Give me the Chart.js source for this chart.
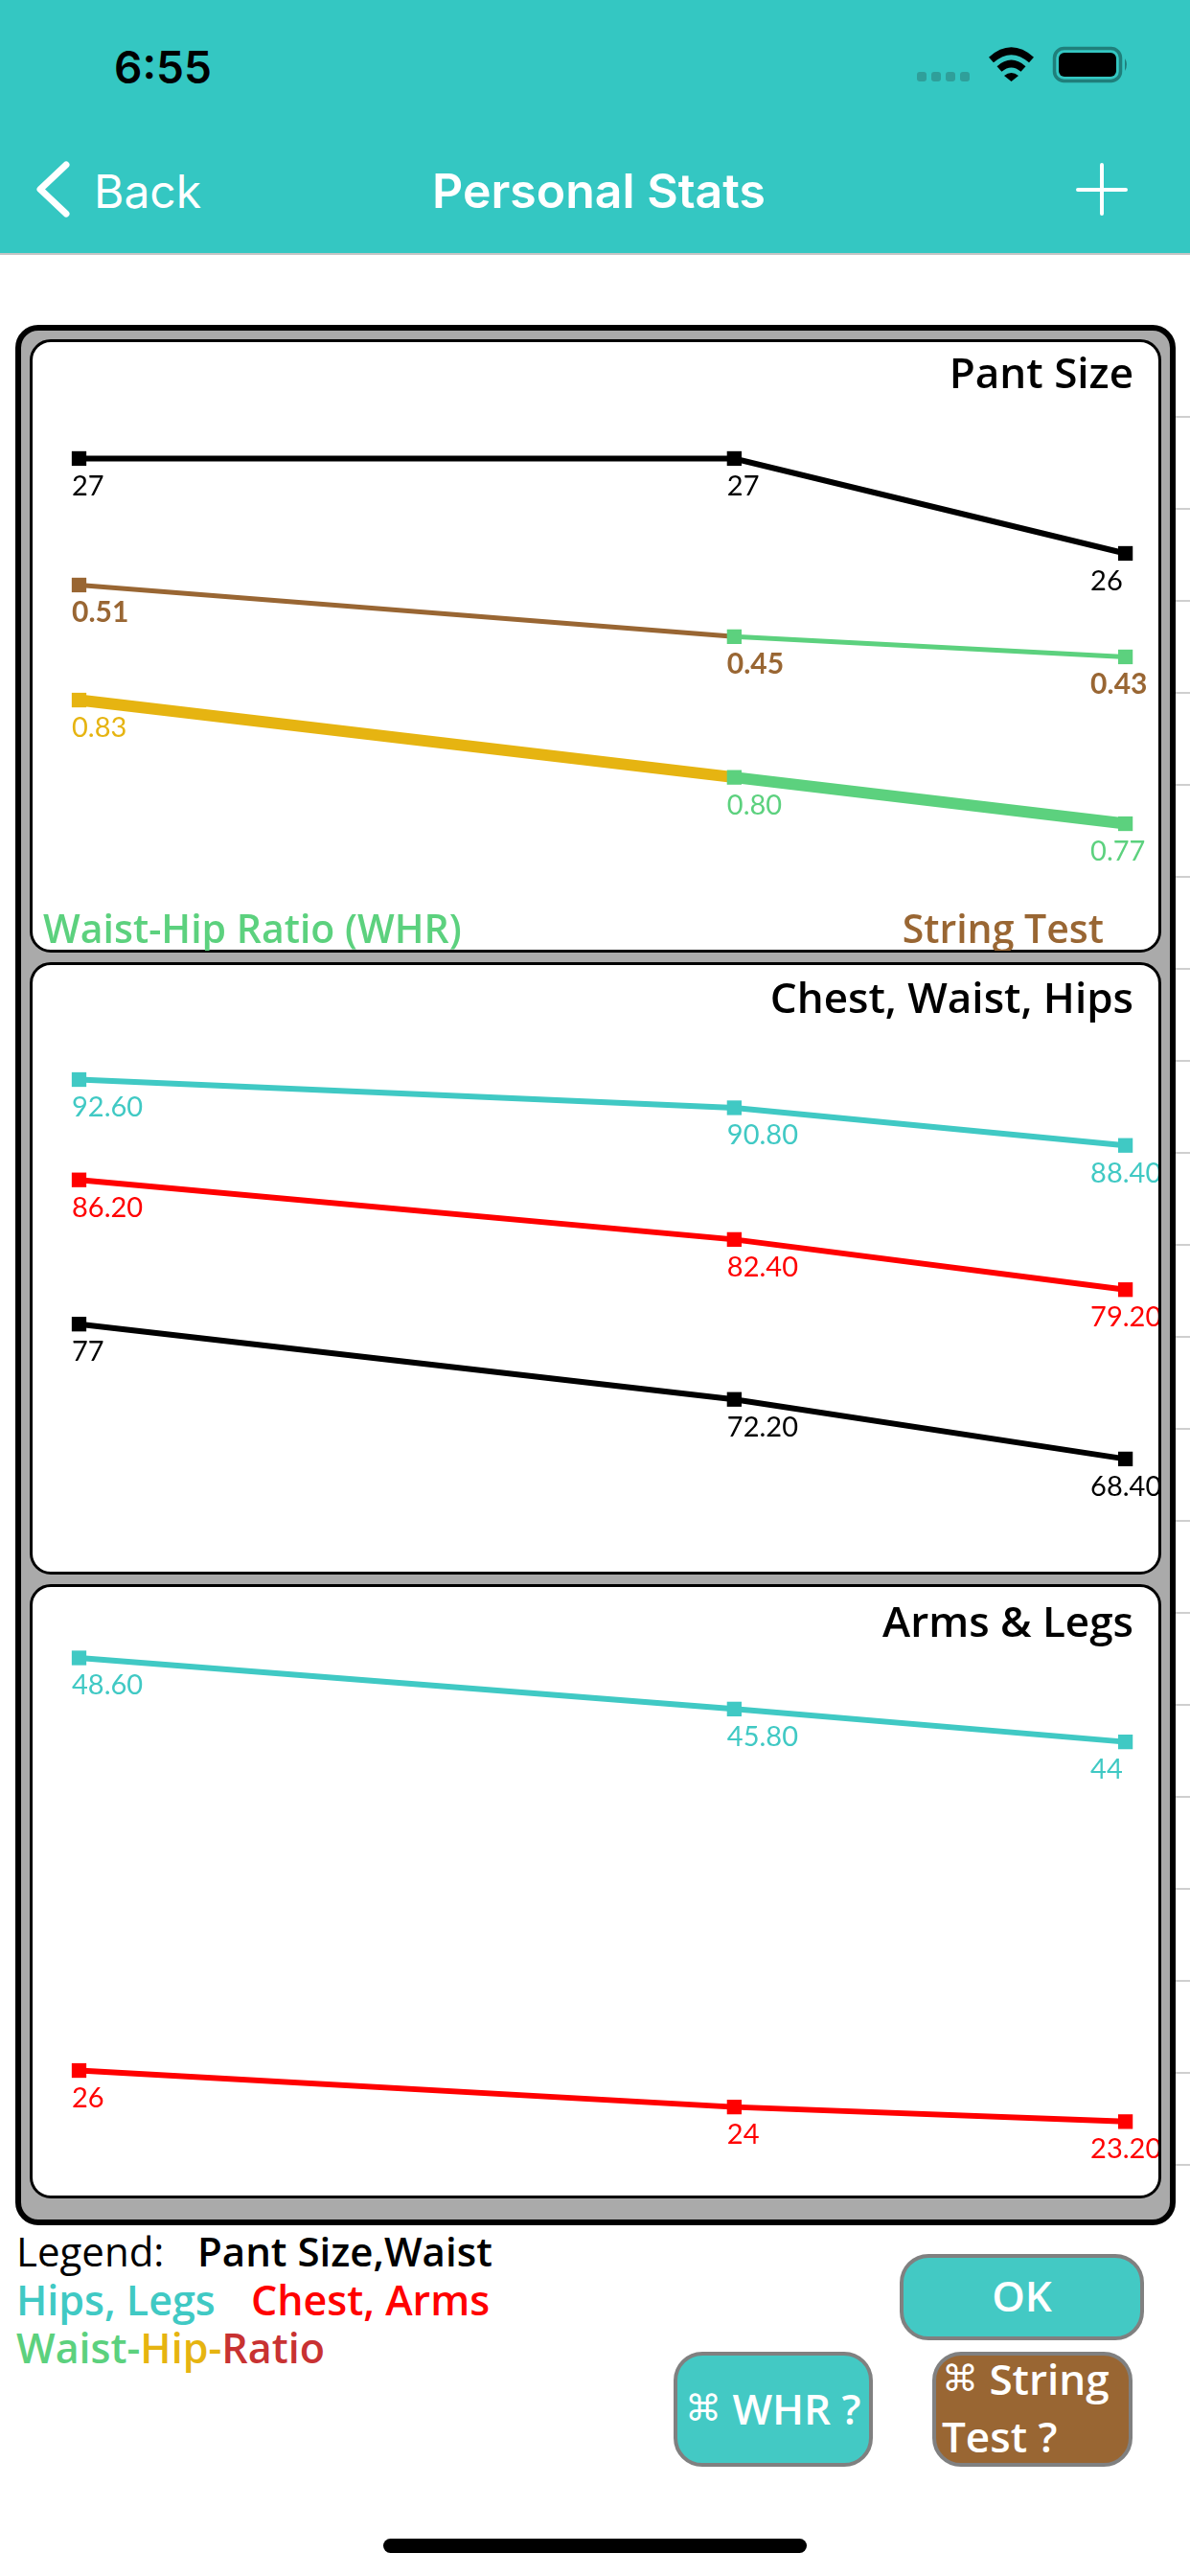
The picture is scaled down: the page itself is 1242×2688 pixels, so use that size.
<!DOCTYPE html>
<html><head><meta charset="utf-8">
<script src="https://cdn.jsdelivr.net/npm/chart.js@4/dist/chart.umd.min.js"></script>
<style>
html,body{margin:0;padding:0;background:#fff;width:1242px;height:2688px;overflow:hidden}
#app{position:relative;width:1242px;height:2688px;font-family:'Open Sans',sans-serif}
.abs{position:absolute}
.t{position:absolute;white-space:nowrap;line-height:1}
.panel{position:absolute;box-sizing:border-box;background:#fff;border:3px solid #000;border-radius:22px}
canvas{position:absolute;display:block}
.btn{position:absolute;box-sizing:border-box;border:4px solid #808080;border-radius:30px;color:#fff}
.cmd{font-weight:400;font-size:38px;vertical-align:4px}
.rule{position:absolute;left:1227px;width:15px;height:2px;background:#cfcfcf}
</style></head><body><div id="app">
<div class="abs" style="left:0;top:0;width:1242px;height:264px;background:#34c7c2;border-bottom:2px solid #c4c4c4"></div>
<span class="t" style="left:119px;top:42px;font:600 46px Inter,sans-serif;color:#000">6:55</span>
<svg class="abs" style="left:0;top:0" width="1242" height="264">
 <g fill="#2f9f9a"><rect x="957" y="75" width="10" height="10" rx="3"/><rect x="972" y="75" width="10" height="10" rx="3"/><rect x="987" y="75" width="10" height="10" rx="3"/><rect x="1002" y="75" width="10" height="10" rx="3"/></g>
 <g fill="none" stroke="#000" stroke-width="7.5"><path d="M1034.5 62.5Q1055.5 44 1076.5 62.5"/><path d="M1043 72Q1055.5 61 1068 72"/></g>
 <path d="M1048 79Q1055.5 73 1063 79L1055.5 85Z" fill="#000"/>
 <rect x="1100.5" y="50.5" width="69" height="34" rx="10" fill="none" stroke="#1f7f7b" stroke-width="3.5"/>
 <rect x="1105" y="55" width="60" height="25" rx="6" fill="#000"/>
 <path d="M1174 61Q1178 67 1174 74Z" fill="#1f7f7b"/>
 <path d="M69 172L42 197.5L69 223" fill="none" stroke="#fff" stroke-width="7" stroke-linecap="round" stroke-linejoin="round"/>
 <path d="M1150 172V223M1125 198H1175" stroke="#fff" stroke-width="4" fill="none" stroke-linecap="round"/>
</svg>
<span class="t" style="left:98px;top:170px;font:400 48px Inter,sans-serif;color:#fff">Back</span>
<span class="t" style="left:451px;top:169px;font:600 50px Inter,sans-serif;color:#fff">Personal Stats</span>

<div id="rules"></div>
<div class="abs" style="left:16px;top:339px;width:1211px;height:1983px;box-sizing:border-box;background:#aaa;border:6px solid #000;border-radius:24px"></div>
<div class="panel" style="left:31px;top:354px;width:1181px;height:640px"></div>
<div class="panel" style="left:31px;top:1004px;width:1181px;height:639px"></div>
<div class="panel" style="left:31px;top:1653px;width:1181px;height:641px"></div>
<canvas id="c1" class="abs" style="left:32px;top:355px"></canvas>
<canvas id="c2" class="abs" style="left:32px;top:1006px"></canvas>
<canvas id="c3" class="abs" style="left:32px;top:1655px"></canvas>

<span class="t" style="left:17px;top:2320px;font:400 42px 'Open Sans',sans-serif;color:#000">Legend:</span>
<span class="t" style="left:206px;top:2320px;font:600 42px 'Open Sans',sans-serif;color:#000">Pant Size,Waist</span>
<span class="t" style="left:17px;top:2370px;font:600 43px 'Open Sans',sans-serif;color:#40c9c4">Hips, Legs</span>
<span class="t" style="left:262px;top:2370px;font:600 43px 'Open Sans',sans-serif;color:#ff0000">Chest, Arms</span>
<span class="t" style="left:17px;top:2420px;font:600 43px 'Open Sans',sans-serif"><span style="color:#5cd17e">Waist-</span><span style="color:#e6b411">Hip-</span><span style="color:#c83232">Ratio</span></span>

<div class="btn" style="left:939px;top:2352px;width:255px;height:90px;background:#43c9c4;text-align:center;font:600 44px/78px 'Open Sans',sans-serif">OK</div>
<div class="btn" style="left:703px;top:2454px;width:208px;height:120px;background:#43c9c4;font:600 44px/106px 'Open Sans',sans-serif;white-space:nowrap;padding-left:8px"><span class="cmd">⌘</span> WHR ?</div>
<div class="btn" style="left:973px;top:2454px;width:209px;height:120px;background:#996633;font:600 44px/60px 'Open Sans',sans-serif;white-space:nowrap;padding-left:6px"><div style="position:relative;top:-8px"><span class="cmd">⌘</span> String<br>Test ?</div></div>
<div class="abs" style="left:400px;top:2649px;width:442px;height:15px;border-radius:8px;background:#000"></div>
</div>
<script>
const BLACK='#000000', BROWN='#996633', GREEN='#5cd17e', YELLOW='#e6b411', TEAL='#40c9c4', RED='#ff0000';

// recorded session positions along the horizontal axis
const visits=[0,67,107];

// Pant Size panel
const pantSize=[27,27,26];
const stringTest=[0.51,0.4525,0.43];
const waistHip=[0.83,0.795,0.774];
const stringLine=[BROWN,GREEN,GREEN];
const waistHipLine=[YELLOW,GREEN,GREEN];
const stringLabels=[BROWN,BROWN,BROWN];
const waistHipLabels=[YELLOW,GREEN,GREEN];

// Chest, Waist, Hips panel
const hips=[92.6,90.8,88.4];
const chest=[86.2,82.4,79.2];
const waist=[77,72.2,68.4];

// Arms & Legs panel
const legs=[48.6,45.8,44];
const arms=[26,24,23.2];

Chart.defaults.devicePixelRatio=1;
const fmt=v=>Number.isInteger(v)?String(v):v.toFixed(2);
const xScale={type:'linear',display:false,min:-4.948,max:110.37};
const hiddenY=(min,max)=>({type:'linear',display:false,min,max,grid:{display:false}});

function series(values,lineColors,labelColors,width,axis,weight){
  return {
    data:values.map((y,i)=>({x:visits[i],y})),
    yAxisID:axis,
    borderWidth:width,
    borderColor:lineColors[0],
    segment:{borderColor:c=>lineColors[c.p0DataIndex]},
    pointStyle:'rect',pointRadius:10.8,pointBorderWidth:0,
    pointBackgroundColor:lineColors,
    tension:0,clip:false,
    labelColors,labelFont:weight?'700 30px':'400 29px'
  };
}
const sameColor=c=>[c,c,c];

const textPlugin={id:'panelText',afterDatasetsDraw(chart,args,opts){
  const ctx=chart.ctx;ctx.save();
  ctx.textBaseline='alphabetic';
  chart.data.datasets.forEach((ds,d)=>{
    const meta=chart.getDatasetMeta(d);
    meta.data.forEach((pt,i)=>{
      ctx.fillStyle=ds.labelColors[i];
      ctx.textAlign='left';
      ctx.font=ds.labelFont+' Lato, sans-serif';
      const dx=i===meta.data.length-1?-36.5:-7.5;
      ctx.fillText(fmt(ds.data[i].y),pt.x+dx,pt.y+38.5);
    });
  });
  opts.notes.forEach(n=>{
    ctx.fillStyle=n.color;ctx.textAlign=n.align;
    ctx.font=n.weight+' '+n.size+"px 'Open Sans', sans-serif";
    ctx.fillText(n.text,n.x,n.y);
  });
  ctx.restore();
}};

function build(id,height,datasets,scales,notes){
  const cv=document.getElementById(id);
  cv.width=1177;cv.height=height;cv.style.width='1177px';cv.style.height=height+'px';
  new Chart(cv,{type:'line',data:{datasets},plugins:[textPlugin],options:{
    responsive:false,animation:false,
    layout:{padding:0,autoPadding:false},
    scales:Object.assign({x:xScale},scales),
    plugins:{legend:{display:false},tooltip:{enabled:false},panelText:{notes}}
  }});
}

build('c1',637,[
  series(pantSize,sameColor(BLACK),sameColor(BLACK),6,'y'),
  series(stringTest,stringLine,stringLabels,5,'yString',700),
  series(waistHip,waistHipLine,waistHipLabels,12,'yWhr')
],{y:hiddenY(21.813,28.247),yString:hiddenY(0.103,0.7825),yWhr:hiddenY(0.7165,0.993)},[
  {text:'Pant Size',x:1151,y:50,align:'right',color:BLACK,size:44,weight:600},
  {text:'Waist-Hip Ratio (WHR)',x:13,y:629,align:'left',color:GREEN,size:41,weight:600},
  {text:'String Test',x:1120,y:629,align:'right',color:BROWN,size:41,weight:600}
]);
build('c2',635,[
  series(hips,sameColor(TEAL),sameColor(TEAL),6,'y'),
  series(chest,sameColor(RED),sameColor(RED),6,'y'),
  series(waist,sameColor(BLACK),sameColor(BLACK),6,'y')
],{y:hiddenY(61.15,99.966)},[
  {text:'Chest, Waist, Hips',x:1151,y:51,align:'right',color:BLACK,size:44,weight:600}
]);
build('c3',638,[
  series(legs,sameColor(TEAL),sameColor(TEAL),6,'y'),
  series(arms,sameColor(RED),sameColor(RED),6,'y')
],{y:hiddenY(19.046,52.537)},[
  {text:'Arms & Legs',x:1151,y:53,align:'right',color:BLACK,size:44,weight:600}
]);

// separators of the table behind the frame
const rules=document.getElementById('rules');
for(let y=434;y<2322;y+=96){const r=document.createElement('div');r.className='rule';r.style.top=y+'px';rules.appendChild(r);}
</script></body></html>
